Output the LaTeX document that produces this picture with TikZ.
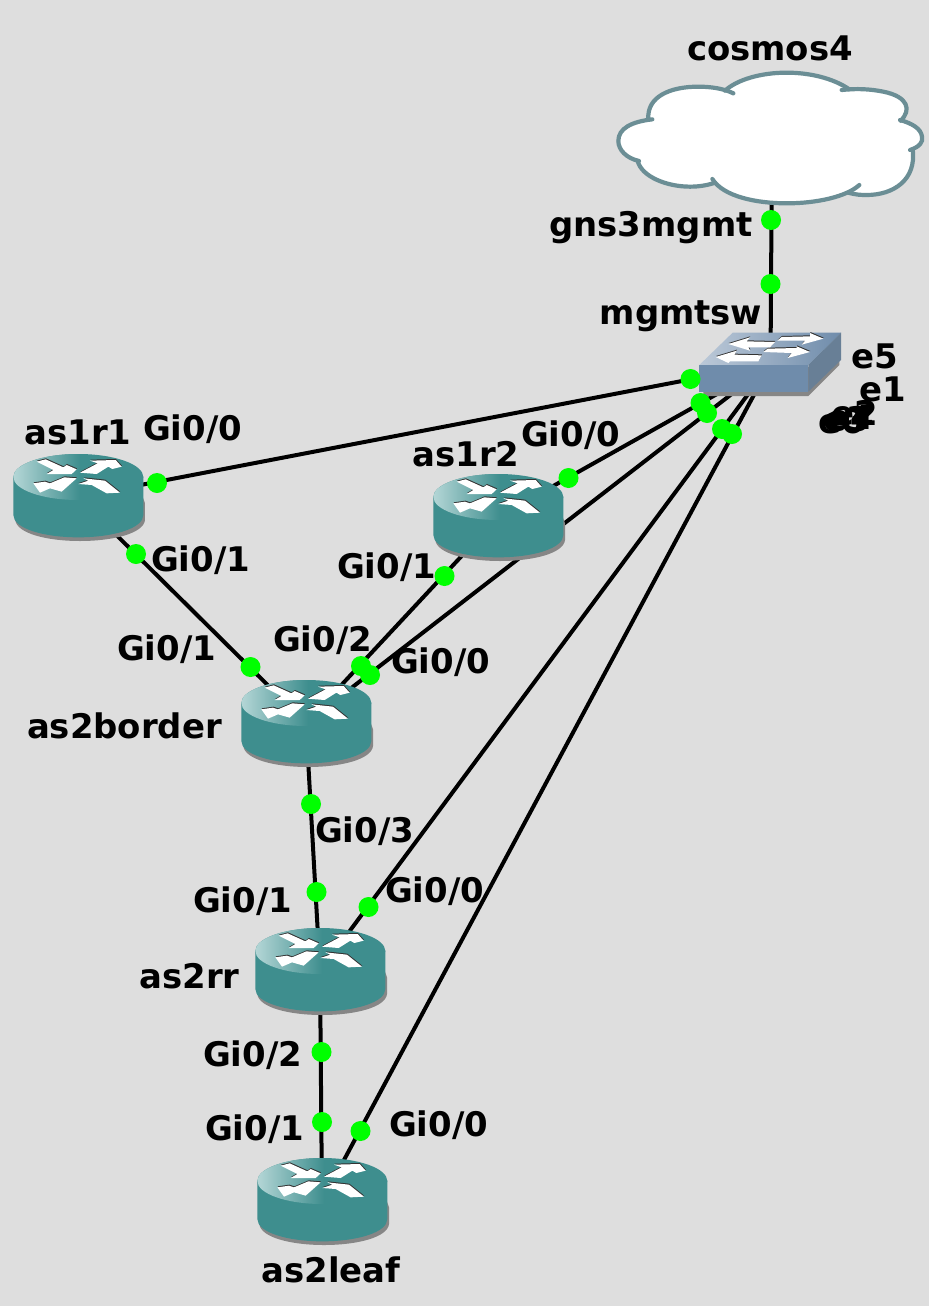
\documentclass[tikz,border=0pt]{standalone}
\usepackage{fontspec}
\setmainfont{DejaVu Sans}
\definecolor{bg}{HTML}{DEDEDE}
\definecolor{teal1}{HTML}{3E8E8E}
\definecolor{teal2}{HTML}{B4D6D6}
\definecolor{shad}{HTML}{868686}
\definecolor{cloudline}{HTML}{6B8E95}
\definecolor{swfront}{HTML}{6F8CAB}
\definecolor{swside}{HTML}{687F96}
\definecolor{swtop}{HTML}{BCC9D8}
\definecolor{dotgreen}{HTML}{00FF00}
\tikzset{
  link/.style={draw=black,line width=4pt},
  port/.style={circle,fill=dotgreen,draw=none,inner sep=0pt,minimum size=20pt},
  lbl/.style={anchor=base,inner sep=0pt,font=\fontsize{33.9}{40}\selectfont\bfseries,text=black},
  devbox/.style={inner sep=0pt,draw=none,minimum width=130pt,minimum height=86pt},
  arrowfill/.style={fill=white,draw=none},
  arrowedge/.style={fill=black!80,draw=none},
  cloudstroke/.style={draw=cloudline,line width=4.2pt,line cap=round}
}
\newcommand{\routershape}[2]{%
  \begin{scope}[shift={(#1-78,#2-57)},x=0.33333pt,y=-0.33333pt]
    % shadow
    \fill[shad] (428,170) -- (435,190) -- (435,240) .. controls (431,280) and (340,303) .. (240,303)
      .. controls (140,303) and (50,280) .. (46,240) -- (46,220) -- cycle;
    % body
    \fill[teal1] (40,110) -- (40,225) .. controls (40,265) and (130,292) .. (235,292)
      .. controls (340,292) and (430,265) .. (430,225) -- (430,110) -- cycle;
    % top
    \fill[teal1] (235,111) ellipse [x radius=195,y radius=69];
    \begin{scope}
      \clip (235,111) ellipse [x radius=195,y radius=69];
      \shade[left color=teal2,right color=teal1] (40,40) rectangle (240,180);
    \end{scope}
    % arrows, dark edge first
    \foreach \dx/\dy/\st in {1/-3/arrowedge,0/0/arrowfill}{
      \begin{scope}[shift={(\dx,\dy)}]
      \fill[\st] (110,65) -- (137,58) -- (190,82) -- (200,75) -- (230,88) -- (215,102) -- (140,102) -- (160,90) -- cycle;
      \fill[\st] (240,98) -- (290,102) -- (325,80) -- (337,87) -- (365,80) -- (347,60) -- (270,62) -- (293,70) -- cycle;
      \fill[\st] (100,130) -- (120,158) -- (150,145) -- (185,155) -- (230,115) -- (193,112) -- (150,130) -- (135,125) -- cycle;
      \fill[\st] (235,132) -- (275,135) -- (320,160) -- (360,158) -- (315,122) -- (250,115) -- (265,122) -- cycle;
      \end{scope}
    }
  \end{scope}%
}
\begin{document}
\begin{tikzpicture}[x=1pt,y=-1pt]
\useasboundingbox (0,0) rectangle (929,1306);
\fill[bg] (0,0) rectangle (929,1306);

% device nodes
\node[devbox] (as1r1) at (78,497) {};
\node[devbox] (as1r2) at (498,517) {};
\node[devbox] (as2border) at (306,723) {};
\node[devbox] (as2rr) at (320,971) {};
\node[devbox] (as2leaf) at (322,1201) {};
\node[inner sep=0pt,minimum width=140pt,minimum height=64pt] (mgmtsw) at (770.5,364) {};
\node[inner sep=0pt,minimum width=305pt,minimum height=130pt] (cosmos) at (772,138) {};

% connectors
\draw[link] (cosmos.center) -- (mgmtsw.center);
\draw[link] (as1r1.center) -- (mgmtsw.center);
\draw[link] (as1r2.center) -- (mgmtsw.center);
\draw[link] (as2border.center) -- (mgmtsw.center);
\draw[link] (as2rr.center) -- (mgmtsw.center);
\draw[link] (as2leaf.center) -- (mgmtsw.center);
\draw[link] (as1r1.center) -- (as2border.center);
\draw[link] (as1r2.center) -- (as2border.center);
\draw[link] (as2border.center) -- (as2rr.center);
\draw[link] (as2rr.center) -- (as2leaf.center);

% cloud
\begin{scope}[shift={(600,60)},x=0.33333pt,y=-0.33333pt]
  \fill[white] (155,178) .. controls (95,185) and (55,205) .. (55,243)
    .. controls (55,270) and (80,295) .. (115,303)
    .. controls (125,350) and (200,380) .. (270,380)
    .. controls (300,380) and (325,375) .. (345,368)
    .. controls (380,412) and (470,430) .. (560,430)
    .. controls (630,430) and (700,420) .. (745,398)
    .. controls (770,405) and (785,405) .. (800,405)
    .. controls (880,405) and (950,360) .. (938,268)
    .. controls (960,260) and (970,245) .. (966,230)
    .. controls (963,205) and (935,190) .. (900,180)
    .. controls (935,150) and (925,110) .. (850,95)
    .. controls (810,87) and (770,85) .. (740,88)
    .. controls (700,55) and (630,38) .. (560,38)
    .. controls (480,38) and (410,60) .. (378,92)
    .. controls (350,82) and (330,80) .. (295,80)
    .. controls (210,80) and (140,110) .. (145,178) -- cycle;
  \draw[cloudstroke] (157,178) .. controls (95,185) and (55,205) .. (55,243)
    .. controls (55,270) and (80,295) .. (117,303);
  \draw[cloudstroke] (113,303) .. controls (125,350) and (200,380) .. (270,380)
    .. controls (300,380) and (325,375) .. (345,368);
  \draw[cloudstroke] (337,357) .. controls (370,410) and (470,430) .. (560,430)
    .. controls (650,430) and (740,410) .. (778,375);
  \draw[cloudstroke] (745,398) .. controls (770,405) and (785,405) .. (800,405)
    .. controls (880,405) and (950,360) .. (938,268);
  \draw[cloudstroke] (930,270) .. controls (960,260) and (970,245) .. (966,230)
    .. controls (963,205) and (935,190) .. (900,180);
  \draw[cloudstroke] (902,182) .. controls (935,150) and (925,110) .. (850,95)
    .. controls (810,87) and (770,85) .. (725,90);
  \draw[cloudstroke] (748,88) .. controls (700,55) and (630,38) .. (560,38)
    .. controls (480,38) and (410,60) .. (375,92);
  \draw[cloudstroke] (400,100) .. controls (370,85) and (330,80) .. (295,80)
    .. controls (210,80) and (140,110) .. (145,178);
\end{scope}

% switch
\begin{scope}[shift={(680,320)},x=0.33333pt,y=-0.33333pt]
  \fill[shad] (70,215) -- (70,228) -- (385,228) -- (478,135) -- (478,120) -- cycle;
  \shade[left color=swtop,right color=swfront,shading angle=90,draw=none]
    (58,135) -- (158,38) -- (483,38) -- (385,135) -- cycle;
  \fill[swfront] (58,135) rectangle (385,215);
  \fill[swside] (385,135) -- (483,38) -- (483,120) -- (385,215) -- cycle;
  \foreach \dx/\dy/\st in {1/-3/arrowedge,0/0/arrowfill}{
    \begin{scope}[shift={(\dx,\dy)}]
    \fill[\st] (145,72) -- (210,52) -- (200,64) -- (285,66) -- (270,82) -- (205,82) -- (210,92) -- cycle;
    \fill[\st] (292,62) -- (305,51) -- (390,49) -- (390,39) -- (430,56) -- (365,74) -- (375,62) -- cycle;
    \fill[\st] (107,111) -- (170,92) -- (163,104) -- (245,106) -- (235,124) -- (150,124) -- (145,129) -- cycle;
    \fill[\st] (250,96) -- (263,86) -- (350,84) -- (350,79) -- (390,96) -- (323,114) -- (335,99) -- cycle;
    \end{scope}
  }
\end{scope}

% routers
\routershape{78}{497}
\routershape{498}{517}
\routershape{306}{723}
\routershape{320}{971}
\routershape{322}{1201}

% port markers
\node[port] (p1) at (771,220) {};
\node[port] (p2) at (770.5,284) {};
\node[port] (p3) at (690.5,379) {};
\node[port] (p4) at (157,483) {};
\node[port] (p5) at (700.5,403) {};
\node[port] (p6) at (568.5,478) {};
\node[port] (p7) at (707,413) {};
\node[port] (p8) at (370,675) {};
\node[port] (p9) at (722,429) {};
\node[port] (p10) at (368.5,907) {};
\node[port] (p11) at (732,434) {};
\node[port] (p12) at (360.5,1131) {};
\node[port] (p13) at (136,554) {};
\node[port] (p14) at (250.5,667) {};
\node[port] (p15) at (444.5,576) {};
\node[port] (p16) at (361,666) {};
\node[port] (p17) at (311,804) {};
\node[port] (p18) at (316.5,892) {};
\node[port] (p19) at (321.5,1052) {};
\node[port] (p20) at (322,1122) {};

% labels
\node[lbl] (t1) at (770,60) {cosmos4};
\node[lbl] (t2) at (651,236) {gns3mgmt};
\node[lbl] (t3) at (681,324) {mgmtsw};
\node[lbl] (t4) at (78,444) {as1r1};
\node[lbl] (t5) at (192.5,440) {Gi0/0};
\node[lbl] (t6) at (200.5,571) {Gi0/1};
\node[lbl] (t7) at (166.5,660) {Gi0/1};
\node[lbl] (t8) at (466,466) {as1r2};
\node[lbl] (t9) at (570.5,446) {Gi0/0};
\node[lbl] (t10) at (386.5,578) {Gi0/1};
\node[lbl] (t11) at (322.5,651) {Gi0/2};
\node[lbl] (t12) at (440.5,673) {Gi0/0};
\node[lbl] (t13) at (124.5,738) {as2border};
\node[lbl] (t14) at (364.5,842) {Gi0/3};
\node[lbl] (t15) at (242.5,912) {Gi0/1};
\node[lbl] (t16) at (434.5,902) {Gi0/0};
\node[lbl] (t17) at (189.5,988) {as2rr};
\node[lbl] (t18) at (252.5,1066) {Gi0/2};
\node[lbl] (t19) at (254.5,1140) {Gi0/1};
\node[lbl] (t20) at (438.5,1136) {Gi0/0};
\node[lbl] (t21) at (331,1282) {as2leaf};
\node[lbl] (t22) at (874.5,368) {e5};
\node[lbl] (t23) at (882.5,401) {e1};
\node[lbl] (t24) at (855,425) {e2};
\node[lbl] (t25) at (851,429) {e4};
\node[lbl] (t26) at (847,431) {e3};
\node[lbl] (t27) at (842,433) {e0};
\end{tikzpicture}
\end{document}
